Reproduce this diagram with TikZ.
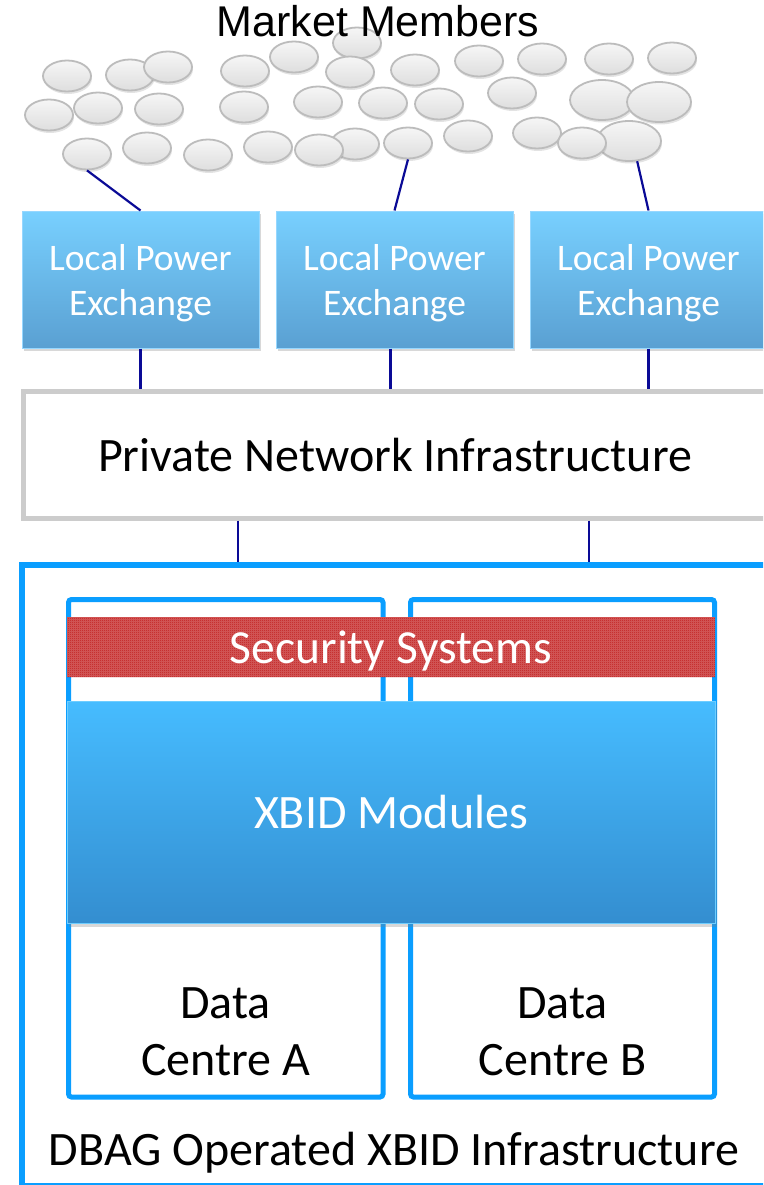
\documentclass[tikz,border=0pt]{standalone}
\usepackage{fontspec}
\setmainfont{Carlito}
\newfontfamily\arialf{Liberation Sans}
\usetikzlibrary{shapes.geometric,shadows,patterns.meta,calc}
\definecolor{navy}{RGB}{10,10,150}
\definecolor{bubline}{RGB}{188,188,188}
\definecolor{bubtop}{RGB}{246,246,246}
\definecolor{bubbot}{RGB}{222,222,222}
\definecolor{lpetop}{RGB}{120,208,255}
\definecolor{lpebot}{RGB}{90,160,210}
\definecolor{lpeline}{RGB}{150,215,255}
\definecolor{pniline}{RGB}{204,204,204}
\definecolor{dbblue}{RGB}{10,158,255}
\definecolor{secred}{RGB}{185,0,0}
\definecolor{secbase}{RGB}{212,95,95}
\definecolor{xbtop}{RGB}{70,188,255}
\definecolor{xbbot}{RGB}{52,142,208}
\definecolor{xbline}{RGB}{110,205,255}
\tikzdeclarepattern{
  name=finecheck,
  type=uncolored,
  bottom left={(0pt,0pt)},
  top right={(2pt,2pt)},
  tile size={(2pt,2pt)},
  code={
    \fill (0pt,0pt) rectangle (1pt,1pt);
    \fill (1pt,1pt) rectangle (2pt,2pt);
  }
}
\begin{document}
\begin{tikzpicture}[x=1pt,y=1pt,
  bub/.style={ellipse, draw=bubline, line width=1.8pt, top color=bubtop, bottom color=bubbot,
    minimum width=48pt, minimum height=31pt, inner sep=0pt,
    drop shadow={opacity=0.22, shadow xshift=1pt, shadow yshift=-2.5pt}},
  bigbub/.style={bub, minimum width=64pt, minimum height=40pt},
  conn/.style={draw=navy, line width=2.2pt},
  lpe/.style={rectangle, draw=lpeline, line width=1pt, top color=lpetop, bottom color=lpebot,
    minimum width=237pt, minimum height=137pt, inner sep=0pt, text=white, align=center,
    text depth=0pt, font=\fontsize{37.5}{45}\selectfont,
    drop shadow={opacity=0.3, shadow xshift=2pt, shadow yshift=-3pt}},
  pnibox/.style={rectangle, draw=pniline, line width=5pt, fill=white, minimum width=744pt,
    minimum height=127pt, inner sep=0pt, text depth=0pt, font=\fontsize{48}{57}\selectfont},
  dbbox/.style={rectangle, draw=dbblue, line width=6pt, minimum width=746pt, minimum height=621pt, inner sep=0pt},
  dcbox/.style={rectangle, draw=dbblue, line width=5pt, rounded corners=3pt, inner sep=0pt},
  secfill/.style={rectangle, fill=secbase, minimum width=648pt, minimum height=60pt, inner sep=0pt},
  secband/.style={rectangle, pattern={finecheck}, pattern color=secred, minimum width=648pt,
    minimum height=60pt, inner sep=0pt, text=white, text depth=0pt, font=\fontsize{47.5}{56}\selectfont},
  xbbox/.style={rectangle, draw=xbline, line width=1pt, top color=xbtop, bottom color=xbbot,
    minimum width=648pt, minimum height=222pt, inner sep=0pt, text=white, text depth=0pt,
    font=\fontsize{48}{57}\selectfont,
    drop shadow={opacity=0.3, shadow xshift=2pt, shadow yshift=-4pt}},
  bigtext/.style={align=center, inner sep=0pt, text depth=0pt, font=\fontsize{48}{57}\selectfont}
]
\useasboundingbox (0,0) rectangle (763,-1185);
\clip (0,0) rectangle (763,-1185);
\fill[white] (0,0) rectangle (763,-1185);

% bubbles (market members)
\node[bub] (b1) at (67,-76) {};
\node[bub] (b2) at (130,-75) {};
\node[bub] (b3) at (168,-67) {};
\node[bub] (b4) at (49,-115) {};
\node[bub] (b5) at (98,-108) {};
\node[bub] (b6) at (159,-109) {};
\node[bub] (b7) at (87,-154) {};
\node[bub] (b8) at (147,-148) {};
\node[bub] (b9) at (208,-155) {};
\node[bub] (b10) at (268,-147) {};
\node[bub] (b12) at (355,-144) {};
\node[bub] (b11) at (319,-150) {};
\node[bub] (b13) at (245,-71) {};
\node[bub] (b14) at (294,-57) {};
\node[bub] (b15) at (357,-43) {};
\node[bub] (b16) at (350,-72) {};
\node[bub] (b17) at (244,-107) {};
\node[bub] (b18) at (318,-102) {};
\node[bub] (b19) at (383,-103) {};
\node[bub] (b20) at (415,-70) {};
\node[bub] (b21) at (479,-61) {};
\node[bub] (b22) at (542,-59) {};
\node[bub] (b23) at (609,-59) {};
\node[bub] (b24) at (672,-58) {};
\node[bub] (b25) at (439,-104) {};
\node[bub] (b26) at (512,-93) {};
\node[bigbub] (b27) at (602,-100) {};
\node[bigbub] (b28) at (659,-102) {};
\node[bub] (b29) at (408,-143) {};
\node[bub] (b30) at (468,-136) {};
\node[bub] (b32) at (537,-133) {};
\node[bigbub] (b31) at (629,-141) {};
\node[bub] (b33) at (582,-143) {};

\node[font=\arialf\fontsize{43}{50}\selectfont, inner sep=0pt, anchor=base] (mm) at (378,-37) {Market Members};

% local power exchanges
\node[lpe] (lpe1) at (140.5,-279.5) {Local Power\\Exchange};
\node[lpe] (lpe2) at (394.5,-279.5) {Local Power\\Exchange};
\node[lpe] (lpe3) at (648.5,-279.5) {Local Power\\Exchange};

% private network
\node[pnibox] (pni) at (395,-454.5) {Private Network Infrastructure};

% DBAG infrastructure
\node[dbbox] (dbag) at (395,-875.5) {};
\node[dcbox, minimum width=314.5pt, minimum height=497.5pt] (dca) at (225.75,-848.25) {};
\node[dcbox, minimum width=304pt, minimum height=497.5pt] (dcb) at (562.5,-848.25) {};
\node[secfill] (secbg) at (391,-647) {};
\node[secband] (sec) at (391,-647) {Security Systems};
\node[xbbox] (xbid) at (391,-812) {XBID Modules};
\node[bigtext] (dcat) at (225.5,-1032) {Data\\Centre A};
\node[bigtext] (dcbt) at (562.5,-1032) {Data\\Centre B};
\node[font=\fontsize{48}{57}\selectfont, inner sep=0pt, anchor=base] (dbagt) at (394,-1165) {DBAG Operated XBID Infrastructure};

% connectors
\draw[conn] (b7.south) -- (lpe1.north);
\draw[conn] (b29.south) -- (lpe2.north);
\draw[conn] (b31.-68) -- (lpe3.north);
\draw[conn] (lpe1.south) -- (lpe1.south |- pni.north);
\draw[conn] ([xshift=-4pt]lpe2.south) -- ([xshift=-4pt]lpe2.south |- pni.north);
\draw[conn] (lpe3.south) -- (lpe3.south |- pni.north);
\draw[conn] ([xshift=-157pt]pni.south) -- ([xshift=-157pt]pni.south |- dbag.north);
\draw[conn] ([xshift=194pt]pni.south) -- ([xshift=194pt]pni.south |- dbag.north);
\end{tikzpicture}
\end{document}
